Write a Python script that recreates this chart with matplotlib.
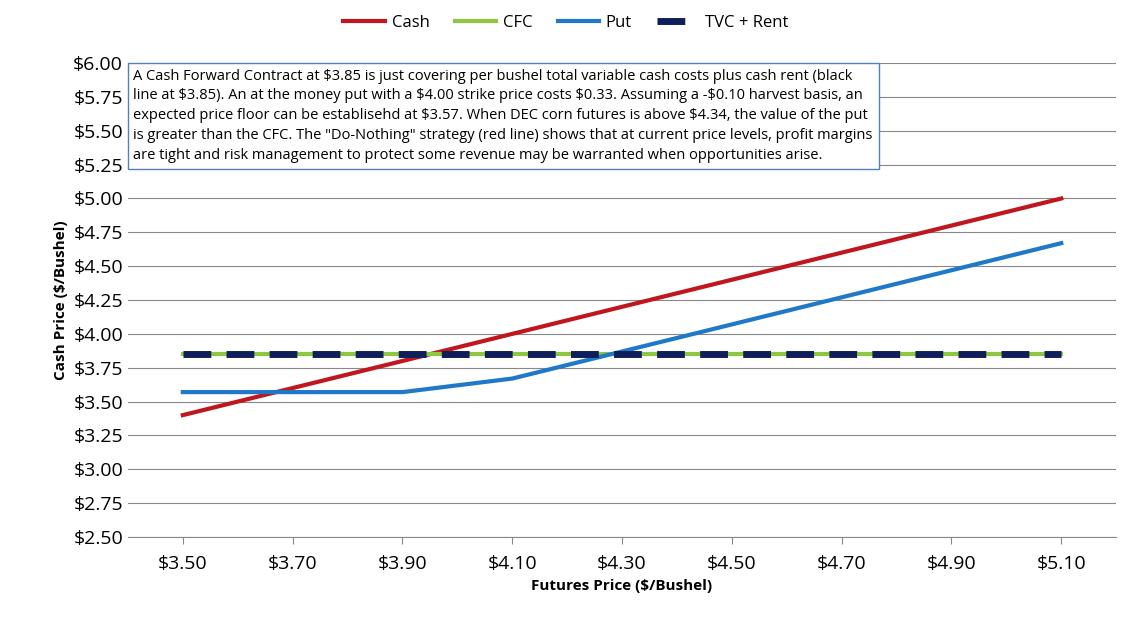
import numpy as np
import matplotlib.pyplot as plt

plt.rcParams['font.family'] = ['Open Sans', 'DejaVu Sans']
plt.rcParams['text.parse_math'] = False

futures = ['$3.50', '$3.70', '$3.90', '$4.10', '$4.30', '$4.50', '$4.70', '$4.90', '$5.10']
cash = [3.40, 3.60, 3.80, 4.00, 4.20, 4.40, 4.60, 4.80, 5.00]
cfc = [3.85] * 9
put = [3.57, 3.57, 3.57, 3.67, 3.87, 4.07, 4.27, 4.47, 4.67]
tvc = [3.85] * 9

note = ('A Cash Forward Contract at $3.85 is just covering per bushel total variable cash costs plus cash rent (black\n'
        'line at $3.85). An at the money put with a $4.00 strike price costs $0.33. Assuming a -$0.10 harvest basis, an\n'
        'expected price floor can be establisehd at $3.57. When DEC corn futures is above $4.34, the value of the put\n'
        'is greater than the CFC. The "Do-Nothing" strategy (red line) shows that at current price levels, profit margins\n'
        'are tight and risk management to protect some revenue may be warranted when opportunities arise.')

x = np.arange(len(futures))
fig, ax = plt.subplots(figsize=[11.32, 6.31], dpi=100)
fig.subplots_adjust(left=0.113, right=0.986, top=0.9, bottom=0.149)

ax.plot(x, cash, color='#c0161d', lw=3, label='Cash')
ax.plot(x, cfc, color='#8dc63f', lw=3, label='CFC')
ax.plot(x, put, color='#1f78c8', lw=3, label='Put')
ax.plot(x, tvc, color='#0f1f5c', lw=5, dashes=(4, 2.2), label='TVC + Rent')

ax.set_xlim(-0.5, len(futures) - 0.5)
ax.set_ylim(2.5, 6.0)
ax.set_yticks(np.arange(2.5, 6.01, 0.25))
ax.set_yticklabels(['${:.2f}'.format(v) for v in np.arange(2.5, 6.01, 0.25)], fontsize=14)
ax.set_xticks(x)
ax.set_xticklabels(futures, fontsize=14)
ax.tick_params(axis='y', length=0)
ax.tick_params(axis='x', length=5, color='#888888', pad=8)
ax.grid(axis='y', color='#888888', lw=0.8)
ax.set_axisbelow(True)
for s in ['top', 'right', 'left']:
    ax.spines[s].set_visible(False)
ax.spines['bottom'].set_color('#888888')

ax.set_xlabel('Futures Price ($/Bushel)', fontsize=11, fontweight='bold')
ax.set_ylabel('Cash Price ($/Bushel)', fontsize=11, fontweight='bold')

ax.text(-0.45, 5.96, note, fontsize=10.5, va='top', ha='left', linespacing=1.45,
        bbox=dict(boxstyle='square,pad=0.4', fc='white', ec='#4f81bd', lw=1))

fig.legend(loc='upper center', ncol=4, frameon=False, fontsize=12,
           bbox_to_anchor=(0.5, 1.0), handlelength=2.5, handletextpad=0.4, columnspacing=1.5)
fig.savefig('out.png')
